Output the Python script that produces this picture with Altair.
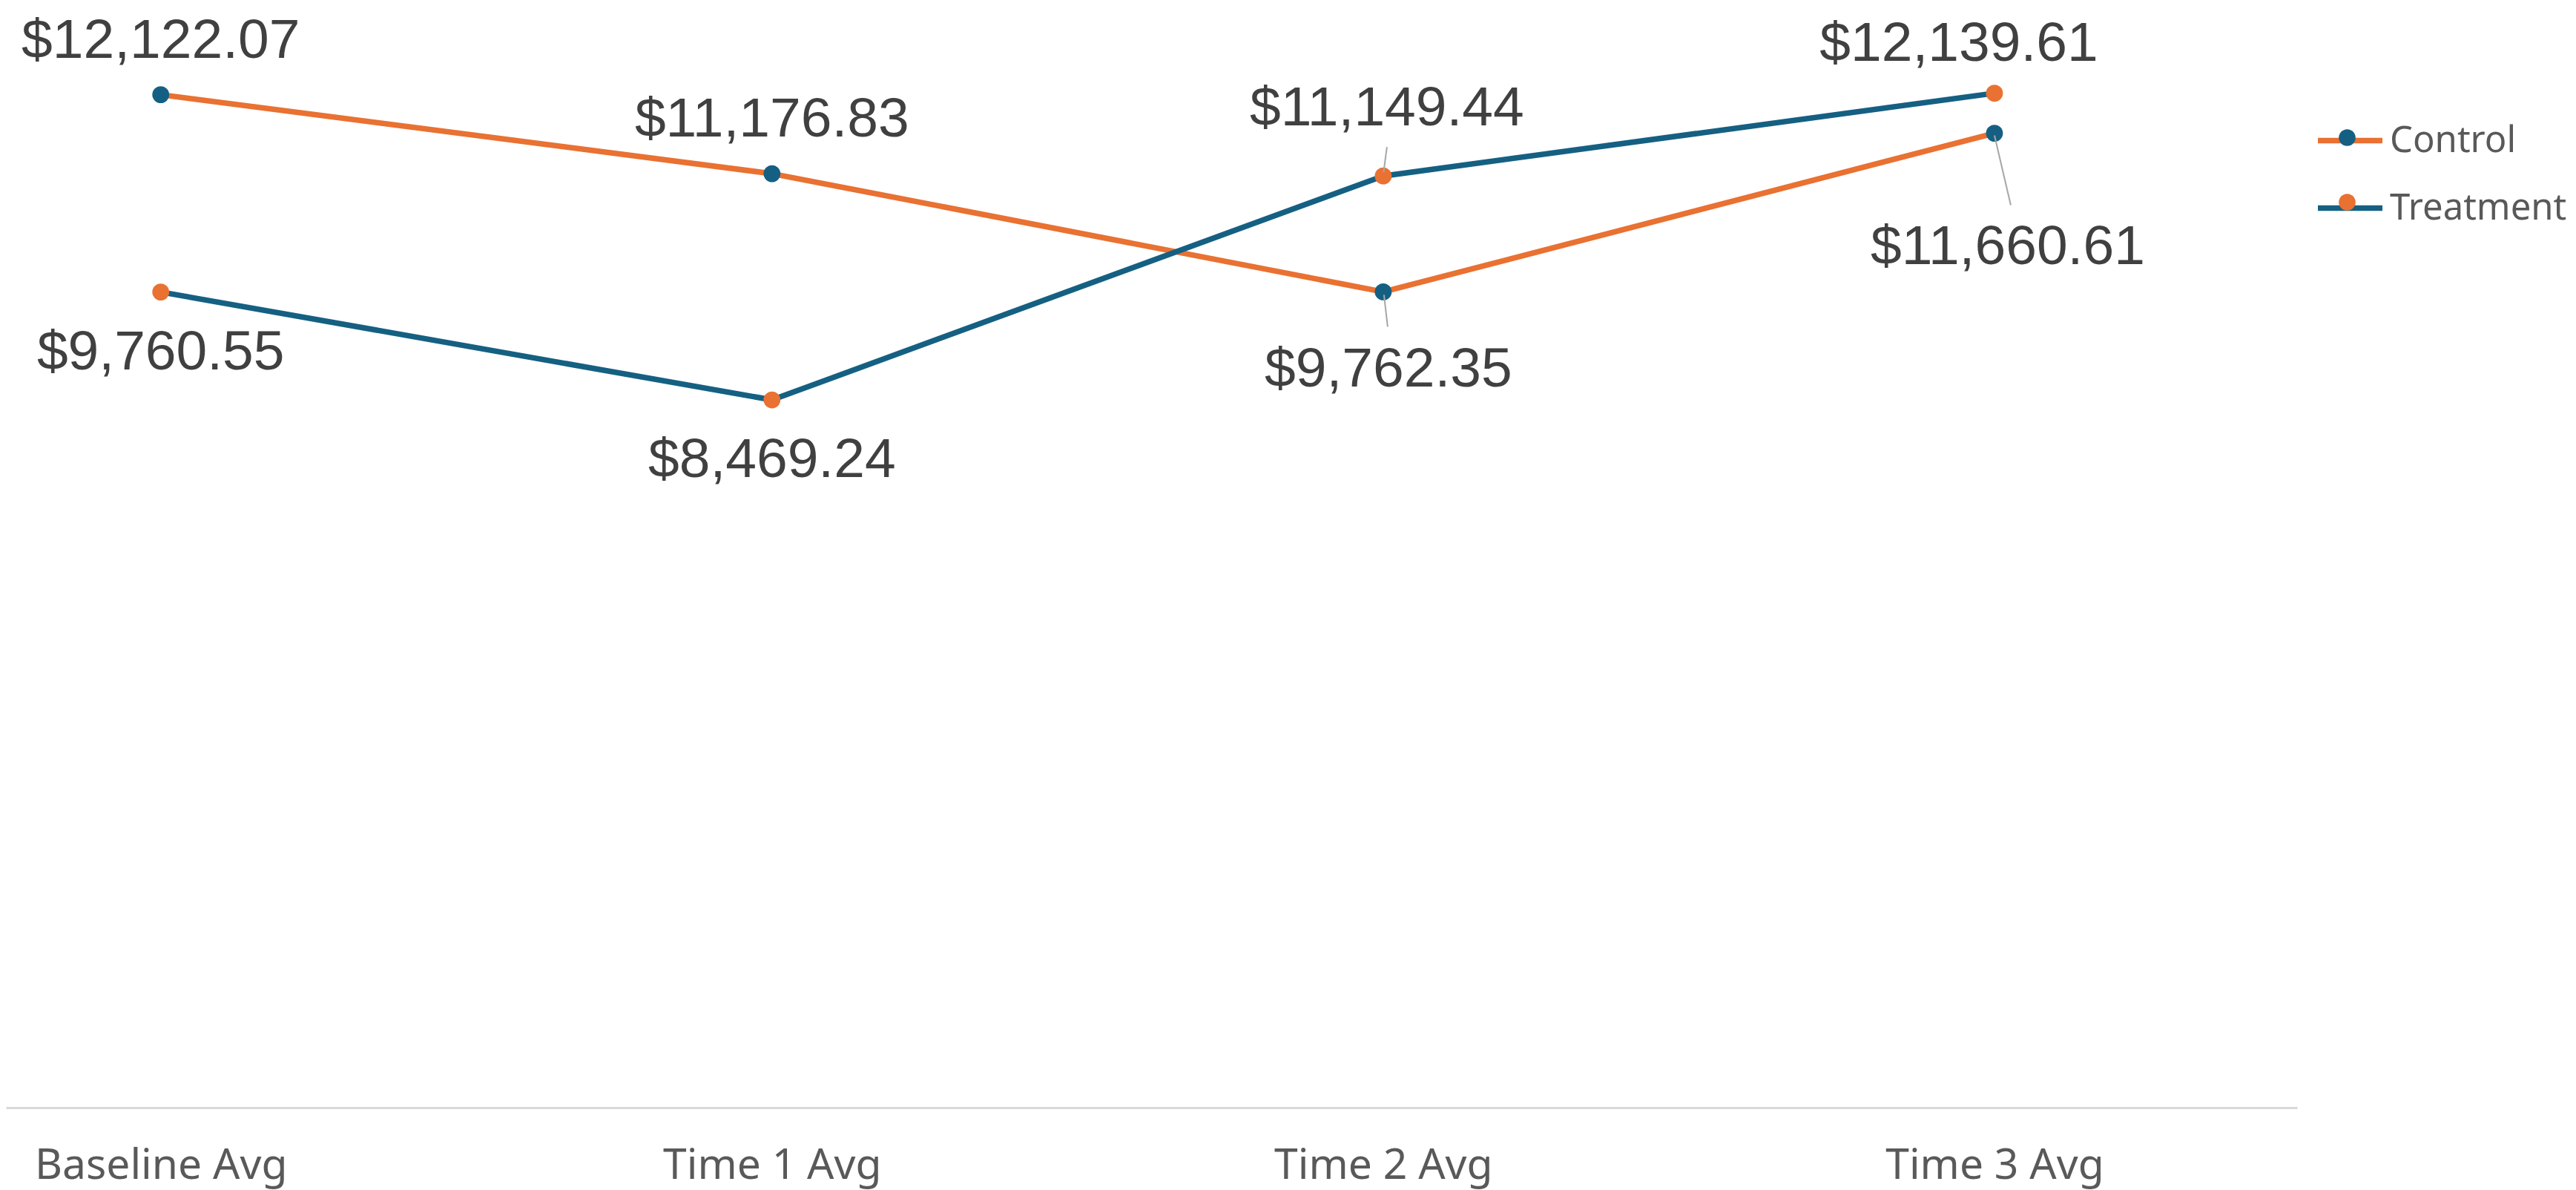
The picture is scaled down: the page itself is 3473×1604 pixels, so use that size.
import altair as alt
import pandas as pd

# ---- data ----
categories = ["Baseline Avg", "Time 1 Avg", "Time 2 Avg", "Time 3 Avg"]
series_names = ["Control", "Treatment"]
control = [12122.07, 11176.83, 9762.35, 11660.61]
treatment = [9760.55, 8469.24, 11149.44, 12139.61]

rows = []
for s, vals in zip(series_names, [control, treatment]):
    for c, v in zip(categories, vals):
        rows.append({"period": c, "series": s, "value": v})
df = pd.DataFrame(rows)

ORANGE = "#E97132"
BLUE = "#156082"
LABEL = "#404040"
GREY = "#595959"

W, H = 3089, 1485

x_enc = alt.X(
    "period:N",
    sort=categories,
    title=None,
    scale=alt.Scale(type="point", padding=0.3742, align=0.3384),
    axis=alt.Axis(
        labelAngle=0,
        labelFont="Noto Sans",
        labelFontSize=57,
        labelColor=GREY,
        labelBaseline="alphabetic",
        labelPadding=95,
        labelLimit=1000,
        ticks=False,
        tickSize=0,
        domainColor="#D9D9D9",
        domainWidth=3,
        grid=False,
    ),
)
y_enc = alt.Y("value:Q", scale=alt.Scale(domain=[0, 13184], nice=False), axis=None)

base = alt.Chart(df)

legend_common = dict(
    orient="none",
    legendX=3113,
    legendY=134,
    title=None,
    labelFont="Noto Sans",
    labelFontSize=49,
    labelColor=GREY,
    labelLimit=1000,
    symbolSize=7569,
    labelOffset=6,
    rowPadding=18,
    padding=0,
)

lines = base.mark_line(strokeWidth=7.5, strokeJoin="round", strokeCap="round").encode(
    x=x_enc,
    y=y_enc,
    color=alt.Color(
        "series:N",
        scale=alt.Scale(domain=series_names, range=[ORANGE, BLUE]),
        legend=alt.Legend(symbolType="stroke", symbolStrokeWidth=7.5, **legend_common),
    ),
)

circle_path = "M0.26,0 A0.26,0.26 0 1,1 -0.26,0 A0.26,0.26 0 1,1 0.26,0 Z"

points = base.transform_calculate(marker="datum.series").mark_circle(
    size=520, opacity=1, strokeWidth=0
).encode(
    x=x_enc,
    y=y_enc,
    fill=alt.Fill(
        "marker:N",
        scale=alt.Scale(range=[BLUE, ORANGE]),
        legend=alt.Legend(
            symbolType=circle_path,
            symbolStrokeWidth=0,
            symbolOpacity=1,
            labelExpr="''",
            zindex=2,
            **legend_common,
        ),
    ),
)


def label_layer(series, periods, dx, dy):
    return (
        base.transform_filter(alt.datum.series == series)
        .transform_filter(alt.FieldOneOfPredicate(field="period", oneOf=periods))
        .mark_text(
            font="Liberation Sans",
            fontSize=75,
            color=LABEL,
            align="center",
            baseline="alphabetic",
            dx=dx,
            dy=dy,
        )
        .encode(x=x_enc, y=y_enc, text=alt.Text("value:Q", format="$,.2f"))
    )


def leader(series, period, xo, yo, x2o, y2o):
    return (
        base.transform_filter(alt.datum.series == series)
        .transform_filter(alt.datum.period == period)
        .mark_rule(
            color="#A6A6A6",
            strokeWidth=2,
            xOffset=xo,
            yOffset=yo,
            x2Offset=x2o,
            y2Offset=y2o,
        )
        .encode(x=x_enc, x2="period", y=y_enc, y2="value")
    )


labels = [
    label_layer("Control", ["Baseline Avg", "Time 1 Avg"], 0, -50),
    label_layer("Control", ["Time 2 Avg"], 7, 128),
    label_layer("Control", ["Time 3 Avg"], 18, 176),
    label_layer("Treatment", ["Baseline Avg", "Time 1 Avg"], 0, 104),
    label_layer("Treatment", ["Time 2 Avg"], 5, -68),
    label_layer("Treatment", ["Time 3 Avg"], -48, -44),
]

leaders = [
    leader("Treatment", "Time 2 Avg", 0.5, -5, 5, -39),
    leader("Control", "Time 2 Avg", 1, 4, 6, 47),
    leader("Control", "Time 3 Avg", 0, 3, 22, 97),
]

chart = (
    alt.layer(lines, points, *leaders, *labels)
    .properties(
        width=W,
        height=H,
        autosize=alt.AutoSizeParams(type="none"),
        padding={"left": 0, "top": 0, "right": 368, "bottom": 111},
        background="white",
    )
    .configure_view(stroke=None)
)

chart.save("out.html", embed_options={"renderer": "svg", "actions": False})
